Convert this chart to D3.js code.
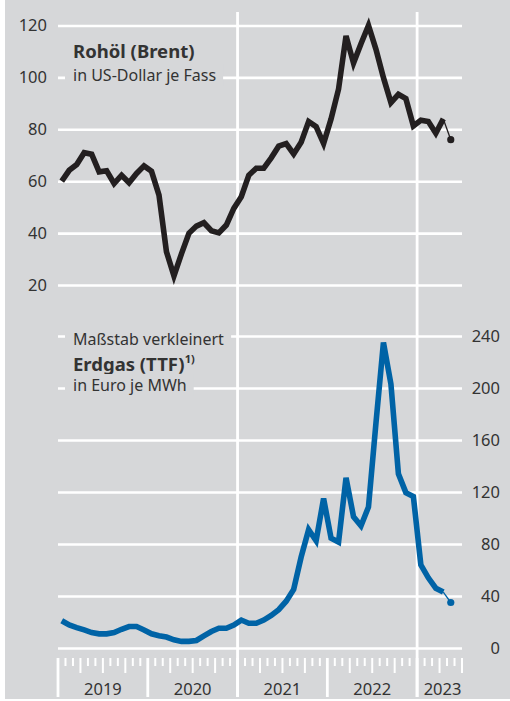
<!DOCTYPE html>
<html>
<head>
<meta charset="utf-8">
<script src="https://d3js.org/d3.v7.min.js"></script>
<style>
  body { margin: 0; background: #ffffff; }
  svg text { font-family: "Noto Sans", "Open Sans", sans-serif; fill: #333; }
</style>
</head>
<body>
<div id="chart"></div>
<script>
// monthly values, Jan 2019 .. May 2023 (last value = latest point, drawn as dot)
var brent = [
  60, 64.2, 66.4, 71, 70.4, 63.6, 64, 59.1, 62.3, 59.4, 63, 65.9,
  63.8, 54.6, 32.8, 23.5, 32, 39.9, 42.7, 44, 40.9, 40.1, 43.1, 49.5,
  54, 62.3, 65, 65, 69, 73.5, 74.5, 70.5, 75, 83, 81, 74.5,
  84, 95.5, 116, 105.5, 113, 120, 110.8, 99.9, 90.3, 93.5, 91.8, 81.3,
  83.5, 83, 78.5, 84, 76
];
var ttf = [
  21, 17.7, 15.7, 13.9, 11.9, 10.9, 10.9, 11.9, 14.4, 16.5, 16.5, 13.9,
  10.9, 9.4, 8.4, 6.3, 5.1, 5.1, 5.8, 9.4, 12.7, 15.2, 15.2, 17.7,
  21.5, 19, 19, 21.5, 25, 29.5, 36, 45, 70, 91, 82.5, 115,
  84.5, 81.5, 131, 101, 94, 108.5, 173, 235, 203, 134, 119.5, 116.5,
  64, 54, 46, 43, 35
];
var years = ["2019", "2020", "2021", "2022", "2023"];
var brentTicks = [20, 40, 60, 80, 100, 120];
var ttfTicks = [0, 40, 80, 120, 160, 200, 240];

var W = 510, H = 701;
var bg = "#d6d7d9";
var nMonths = 54; // Jan 2019 .. Jul 2023

var svg = d3.select("#chart").append("svg")
    .attr("width", W)
    .attr("height", H);

svg.append("rect")
    .attr("x", 5).attr("y", 0)
    .attr("width", W - 5).attr("height", 699)
    .attr("fill", bg);

var x = d3.scaleLinear().domain([0, nMonths]).range([58, 462]);
var yTop = d3.scaleLinear().domain([20, 120]).range([285, 25.5]);
var yBot = d3.scaleLinear().domain([0, 240]).range([648, 336]);

// gridlines + labels, top (left labels)
var gTop = svg.append("g").attr("transform", "translate(" + x(0) + ",0)")
    .call(d3.axisLeft(yTop).tickValues(brentTicks).tickSize(-(x(nMonths) - x(0))).tickPadding(11));
gTop.select(".domain").remove();
gTop.selectAll(".tick line").attr("stroke", "#fff").attr("stroke-width", 2.6);
gTop.selectAll(".tick text").attr("font-size", 16.5).attr("fill", "#333")
    .attr("font-family", "Noto Sans");

// gridlines + labels, bottom (right labels)
var gBot = svg.append("g").attr("transform", "translate(" + x(nMonths) + ",0)")
    .call(d3.axisRight(yBot).tickValues(ttfTicks).tickSize(-(x(nMonths) - x(0))));
gBot.select(".domain").remove();
gBot.selectAll(".tick line").attr("stroke", "#fff").attr("stroke-width", 2.6);
gBot.selectAll(".tick text")
    .attr("x", 38)
    .attr("text-anchor", "end")
    .attr("font-size", 16.5).attr("fill", "#333")
    .attr("font-family", "Noto Sans");

// vertical year lines through both panels (2021, 2023)
svg.selectAll(".vline")
    .data([24, 48])
    .enter().append("line")
    .attr("class", "vline")
    .attr("x1", function(d) { return x(d); })
    .attr("x2", function(d) { return x(d); })
    .attr("y1", 12).attr("y2", 697)
    .attr("stroke", "#fff").attr("stroke-width", 2.8);

// month ticks along the bottom
var months = d3.range(0, nMonths + 1);
svg.selectAll(".mtick")
    .data(months)
    .enter().append("line")
    .attr("class", "mtick")
    .attr("x1", function(d) { return x(d); })
    .attr("x2", function(d) { return x(d); })
    .attr("y1", 658)
    .attr("y2", function(d) { return d % 12 === 0 ? 697 : (d % 3 === 0 ? 673 : 666); })
    .attr("stroke", "#fff")
    .attr("stroke-width", function(d) { return d % 12 === 0 ? 2.8 : 2; });

svg.selectAll(".ylabel")
    .data(years)
    .enter().append("text")
    .attr("class", "ylabel")
    .attr("x", function(d, i) { return (x(i * 12) + x(Math.min(i * 12 + 12, nMonths + 0.8))) / 2; })
    .attr("y", 695)
    .attr("text-anchor", "middle")
    .attr("font-size", 16.5)
    .text(function(d) { return d; });

// label masks + titles
function label(xp, yp, txt, size, weight, mask) {
  var t = svg.append("text")
      .attr("x", xp).attr("y", yp)
      .attr("font-size", size)
      .attr("font-weight", weight)
      .attr("fill", weight === "bold" ? "#222" : "#333")
      .text(txt);
  if (mask) {
    var b = t.node().getBBox();
    svg.insert("rect", function() { return t.node(); })
        .attr("x", b.x - 8).attr("y", b.y)
        .attr("width", b.width + 15).attr("height", b.height)
        .attr("fill", bg);
  }
  return t;
}

label(73, 58, "Rohöl (Brent)", 18.5, "bold", false);
label(73, 81, "in US-Dollar je Fass", 16, "normal", true);
label(73, 345, "Maßstab verkleinert", 16, "normal", true);
var ttl = label(73, 370.5, "Erdgas (TTF)", 18.5, "bold", false);
ttl.append("tspan").attr("font-size", 11).attr("dy", -8).text("1)");
label(73, 391, "in Euro je MWh", 16, "normal", true);

// data lines
var n = brent.length;
function xm(i) { return x(i + 0.5); }

function drawSeries(vals, y, color) {
  var line = d3.line()
      .x(function(d, i) { return xm(i); })
      .y(function(d) { return y(d); });
  svg.append("path")
      .datum(vals.slice(0, n - 1))
      .attr("d", line)
      .attr("fill", "none")
      .attr("stroke", color)
      .attr("stroke-width", 5.6)
      .attr("stroke-linejoin", "miter")
      .attr("stroke-linecap", "butt");
  svg.append("line")
      .attr("x1", xm(n - 2)).attr("y1", y(vals[n - 2]))
      .attr("x2", xm(n - 1)).attr("y2", y(vals[n - 1]))
      .attr("stroke", color).attr("stroke-width", 1.3);
  svg.append("circle")
      .attr("cx", xm(n - 1)).attr("cy", y(vals[n - 1]))
      .attr("r", 3.6)
      .attr("fill", color);
}

drawSeries(brent, yTop, "#231f20");
drawSeries(ttf, yBot, "#0063a6");
</script>
</body>
</html>
